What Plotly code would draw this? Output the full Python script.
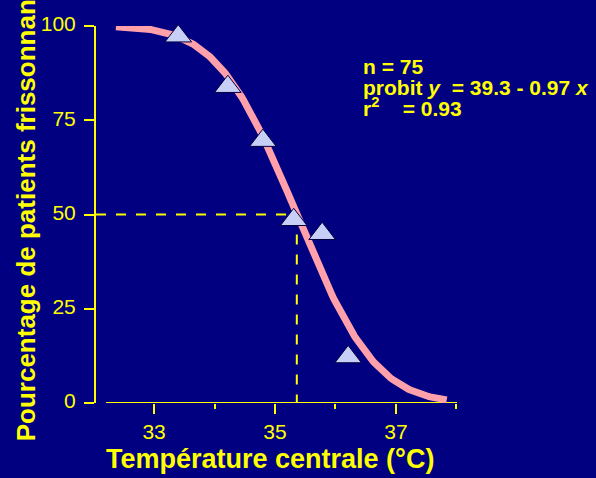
import math
import plotly.graph_objects as go

# Observed proportion of shivering patients by core temperature
temperature = [33.40, 34.22, 34.80, 35.31, 35.78, 36.21]
pct_shivering = [97.3, 83.9, 69.6, 48.6, 44.9, 12.2]

# Probit fit reported in the annotation: probit = a - b * x
probit_a = 39.3
probit_b = 0.97
n_patients = 75
r_squared = 0.93

x_ticks = [33, 35, 37]
y_ticks = [0, 25, 50, 75, 100]

BG = "#000080"
YELLOW = "#FFFF00"
PINK = "#FFA0AA"
TRI = "#C8CFF7"
FONT = "Arial, Liberation Sans, sans-serif"


def probit_pct(x):
    z = probit_a - probit_b * x - 5.0
    return 50.0 * (1.0 + math.erf(z / math.sqrt(2.0)))


# fitted curve sampled across the plotted temperature span
curve_x = [32.37 + i * (37.84 - 32.37) / 200 for i in range(201)]
curve_y = [probit_pct(v) for v in curve_x]

# temperature at which half the patients shiver (probit = 5)
x_half = (probit_a - 5.0) / probit_b
x_min, x_max = 32.04, 38.01

fig = go.Figure()

# dashed guides to the 50 % point
fig.add_trace(go.Scatter(
    x=[x_min, x_half], y=[50, 50], mode="lines",
    line=dict(color=YELLOW, width=2, dash="10px,10px"),
    hoverinfo="skip", showlegend=False))
fig.add_trace(go.Scatter(
    x=[x_half, x_half], y=[50, 0], mode="lines",
    line=dict(color=YELLOW, width=2, dash="10px,10px"),
    hoverinfo="skip", showlegend=False))

# probit curve
fig.add_trace(go.Scatter(
    x=curve_x, y=curve_y, mode="lines",
    line=dict(color=PINK, width=7),
    hoverinfo="skip", showlegend=False))

# observed points
fig.add_trace(go.Scatter(
    x=temperature, y=pct_shivering, mode="markers",
    marker=dict(symbol="triangle-up", size=23, color=TRI,
                line=dict(color="#000040", width=1)),
    cliponaxis=False, showlegend=False))

# x baseline, detached from the y axis
fig.add_shape(type="line", xref="x", yref="y", x0=32.207, x1=x_max,
              y0=0, y1=0, line=dict(color=YELLOW, width=2), layer="below")

fig.update_layout(
    width=596, height=478,
    margin=dict(l=96, r=139, t=16, b=75),
    paper_bgcolor=BG, plot_bgcolor=BG,
    font=dict(family=FONT, color=YELLOW),
    xaxis=dict(
        range=[x_min, x_max], showgrid=False, zeroline=False, showline=False,
        tickmode="linear", tick0=33, dtick=2,
        ticks="outside", ticklen=10, tickwidth=2, tickcolor=YELLOW,
        tickfont=dict(family=FONT, size=21, color=YELLOW),
        minor=dict(ticks="outside", ticklen=5, tickwidth=2, tickcolor=YELLOW,
                   tick0=33, dtick=1, showgrid=False),
    ),
    yaxis=dict(
        range=[0, 100], showgrid=False, zeroline=False,
        showline=True, linecolor=YELLOW, linewidth=2,
        tickvals=y_ticks, ticks="outside", ticklen=10, tickwidth=2,
        tickcolor=YELLOW, ticklabelstandoff=4, ticklabelshift=-2,
        tickfont=dict(family=FONT, size=21, color=YELLOW),
    ),
)

title_font = dict(family=FONT, size=27, color=YELLOW)
fig.add_annotation(
    text="<b>Température centrale (°C)</b>", xref="paper", yref="paper",
    x=(269.5 - 96) / 361, y=(402.7 - 460) / 386.7,
    xanchor="center", yanchor="middle", showarrow=False, font=title_font)
fig.add_annotation(
    text="<b>Pourcentage de patients frissonnants</b>", xref="paper", yref="paper",
    x=(26 - 96) / 361, y=(402.7 - 204) / 386.7, textangle=-90,
    xanchor="center", yanchor="middle", showarrow=False,
    font=dict(family=FONT, size=26, color=YELLOW))

stat_font = dict(family=FONT, size=21, color=YELLOW)
stat_lines = [
    f"<b>n = {n_patients}</b>",
    f"<b>probit <i>y</i>  = {probit_a} - {probit_b} <i>x</i></b>",
    f"<b>r<sup>2</sup>\u00a0\u00a0\u00a0 = {r_squared}</b>",
]
for i, line in enumerate(stat_lines):
    base_px = 71 + 21.5 * i
    fig.add_annotation(
        text=line, xref="paper", yref="paper",
        x=(361 - 96) / 361, y=(402.7 - base_px) / 386.7,
        xanchor="left", yanchor="bottom", showarrow=False, font=stat_font)

fig.write_html("out.html")
